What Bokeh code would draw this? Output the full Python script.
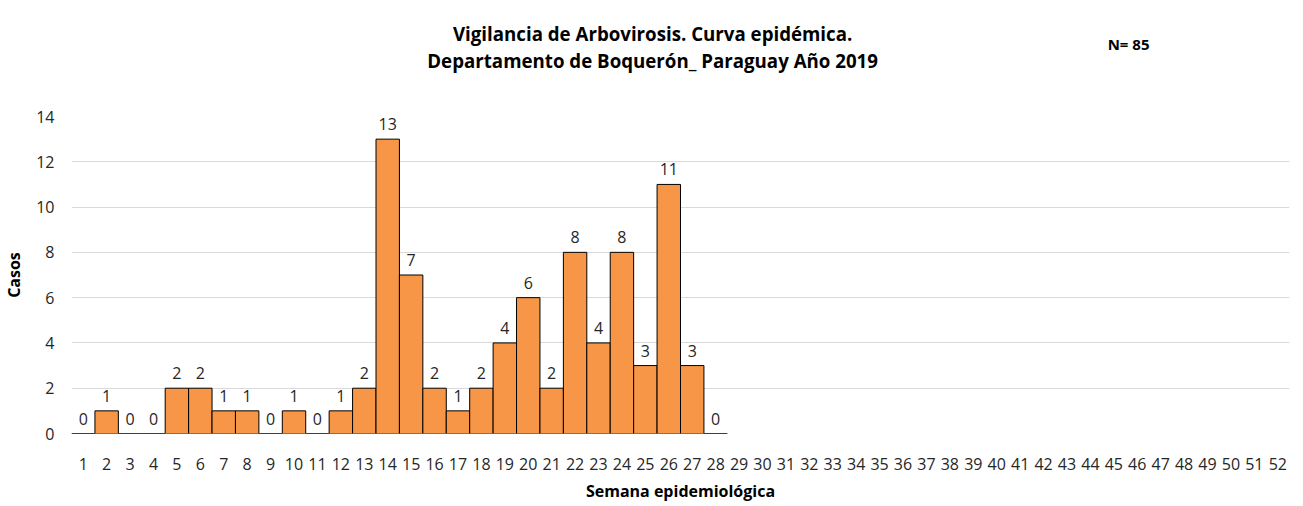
from bokeh.plotting import figure
from bokeh.layouts import column
from bokeh.models import ColumnDataSource, Range1d, FixedTicker
from bokeh.core.properties import value
from bokeh.embed import file_html
from bokeh.resources import INLINE

weeks = list(range(1, 53))
case_weeks = list(range(1, 29))
cases = [0, 1, 0, 0, 2, 2, 1, 1, 0, 1, 0, 1, 2, 13, 7, 2, 1, 2, 4, 6, 2, 8, 4, 8, 3, 11, 3, 0]
y_ticks = [0, 2, 4, 6, 8, 10, 12, 14]
title_lines = ["Vigilancia de Arbovirosis. Curva epidémica.",
               "Departamento de Boquerón_ Paraguay Año 2019"]
n_text = "N= 85"
x_label = "Semana epidemiológica"
y_label = "Casos"

FONT = "Open Sans"
TXT = "#262626"
W = 1295

xr = Range1d(0.5, 52.5)

# ---- main chart ----
src = ColumnDataSource(dict(x=case_weeks, y=cases, lab=[str(v) for v in cases]))
p = figure(width=W, height=404, output_backend="svg", toolbar_location=None,
           x_range=xr, y_range=Range1d(0, 14),
           min_border_left=71, min_border_right=6, min_border_top=16, min_border_bottom=69)
p.outline_line_color = None

p.vbar(x="x", top="y", width=1.0, bottom=0, source=src,
       fill_color="#F79646", line_color="black", line_width=1)
p.text(x="x", y="y", text="lab", source=src, y_offset=-15,
       text_align="center", text_baseline="middle",
       text_font=value(FONT), text_font_size="16px", text_color=TXT)

p.xgrid.visible = False
p.ygrid.grid_line_color = "#d9d9d9"
p.ygrid.ticker = FixedTicker(ticks=y_ticks)

p.yaxis.ticker = FixedTicker(ticks=y_ticks)
p.xaxis.ticker = FixedTicker(ticks=weeks)
for ax in (p.xaxis, p.yaxis):
    ax.axis_line_color = None
    ax.major_tick_line_color = None
    ax.minor_tick_line_color = None
    ax.major_label_text_font = FONT
    ax.major_label_text_font_size = "16px"
    ax.major_label_text_color = TXT
    ax.axis_label_text_font = FONT
    ax.axis_label_text_font_size = "16px"
    ax.axis_label_text_font_style = "bold"
    ax.axis_label_text_color = "black"
p.xaxis.major_label_standoff = 18
p.yaxis.major_label_standoff = 11
p.xaxis.axis_label = x_label
p.yaxis.axis_label = y_label
p.xaxis.axis_label_standoff = 7
p.yaxis.axis_label_standoff = 8

# ---- header (titles), shares the x scale with the chart ----
hdr = figure(width=W, height=100, output_backend="svg", toolbar_location=None,
             x_range=xr, y_range=Range1d(100, 0),
             min_border_left=71, min_border_right=6, min_border_top=0, min_border_bottom=0,
             x_axis_type=None, y_axis_type=None)
hdr.outline_line_color = None
hdr.grid.visible = False
hdr_src = ColumnDataSource(dict(x=[25.31, 25.31], y=[33, 60], t=title_lines))
hdr.text(x="x", y="y", text="t", source=hdr_src, text_align="center", text_baseline="middle",
         text_font=value(FONT), text_font_size="18.7px", text_font_style="bold", text_color="black")
hdr.text(x=[45.63], y=[43], text=[n_text], text_align="center", text_baseline="middle",
         text_font=value(FONT), text_font_size="15px", text_font_style="bold", text_color="black")

layout = column(hdr, p, spacing=0)
open("out.html", "w").write(file_html(layout, INLINE))
